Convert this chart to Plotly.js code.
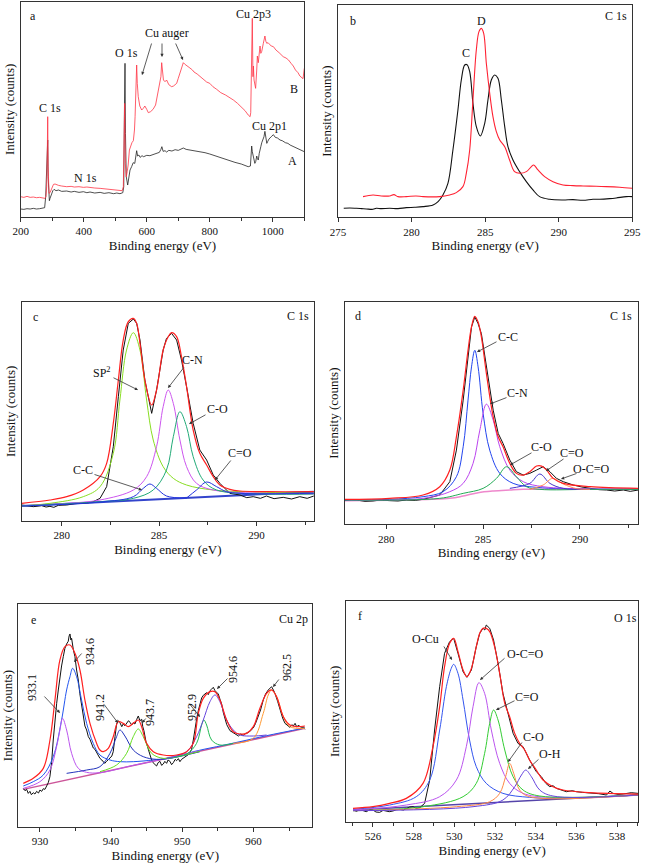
<!DOCTYPE html>
<html><head><meta charset="utf-8">
<script src="https://cdn.plot.ly/plotly-3.0.1.min.js"></script>
<style>html,body{margin:0;padding:0;background:#fff}#chart{width:646px;height:867px}</style>
</head><body><div id="chart"></div>
<script>
// ---------- Panel a: survey spectra ----------
const a_A = [[200,23],[210,22],[220,24],[230,23],[240,25],[250,23],[260,24],[270,25],[276,27],[279.3,60],[282,150],[284.5,200],[285.7,230],[287,120],[289,60],[291,48],[293,55],[297,68],[302,78],[306,82],[312,78],[320,80],[330,76],[346,77],[360,74],[370,76],[385,73],[399,75],[410,72],[420,74],[435,71],[452,73],[465,70],[480,72],[495,69],[505,71],[515,69],[524,72],[527,90],[529,300],[531,460],[532.5,250],[535,120],[539.5,95],[543,118],[547,140],[552,150],[557,162],[562,160],[566,190],[568,198],[571,182],[575,185],[579,178],[585,183],[590,180],[600,184],[610,183],[620,187],[630,189],[640,193],[645,202],[648,210],[652,196],[658,198],[663,194],[670,199],[680,197],[690,201],[700,199],[710,204],[716,206],[725,202],[740,200],[755,197],[769,195],[785,192],[800,188],[815,183],[830,180],[850,172],[865,168],[880,163],[900,158],[915,152],[922,150],[929,152],[931,180],[933,212],[935,195],[938,178],[941,168],[943,160],[946,166],[949,182],[951,175],[954,170],[957,190],[959,202],[962,210],[965,222],[969,232],[972,240],[975,256],[978,232],[981,220],[984,226],[988,233],[995,240],[1002,246],[1008,238],[1015,236],[1023,230],[1030,228],[1040,222],[1048,220],[1055,215],[1062,212],[1070,208],[1078,204],[1086,200],[1093,198],[1100,195]];
const a_B = [[200,60],[210,58],[220,61],[230,58],[240,59],[250,57],[260,58],[270,56],[277,55],[280,60],[282.5,90],[284.5,200],[285.7,300],[287,150],[289.9,70],[293,72],[296,80],[300,92],[304,97],[309,98],[315,95],[320,94],[330,92],[346,90],[360,91],[370,89],[385,90],[399,88],[410,89],[420,87],[435,86],[452,85],[465,84],[480,82],[495,81],[505,80],[515,79],[522,78],[525.7,90],[528,200],[530,340],[532,160],[535,120],[538,135],[541,155],[545,200],[549,215],[553,222],[557.5,228],[561,260],[563,300],[566,400],[568,455],[570,400],[573,360],[578,332],[584,320],[589,325],[594,332],[600,322],[605,312],[612,315],[620,322],[628,335],[636,378],[641,400],[645,420],[647.4,462],[650,430],[653,410],[658,405],[663,410],[670,396],[679,390],[685,392],[690,396],[695,400],[700,415],[705,432],[710,448],[716,462],[720,458],[725,455],[730,450],[737,446],[745,440],[750,434],[760,428],[769,420],[780,412],[790,404],[800,400],[810,390],[822,382],[835,372],[850,365],[862,358],[875,350],[888,340],[900,330],[912,318],[922,305],[928,300],[930,312],[932,450],[935,595],[937,420],[938.5,452],[940.5,410],[943,392],[945.5,385],[949,440],[951,482],[954,462],[957,500],[959.5,512],[962,490],[965,496],[970,520],[975,542],[978,526],[981,520],[985,522],[990,516],[995,512],[1002,510],[1010,500],[1020,492],[1033,480],[1042,476],[1050,470],[1058,460],[1065,452],[1072,440],[1080,432],[1086,422],[1092,418],[1096,414],[1100,445]];

// ---------- Panel b: C 1s comparison ----------
const b_C = [[275.39,27],[275.8,28],[276.25,27],[276.6,26],[276.93,25],[277.38,24],[277.6,27],[277.94,26],[278.51,27],[279.08,26],[279.64,29],[280.21,30],[280.78,32],[281.46,37],[281.8,47],[282.13,67],[282.47,102],[282.81,202],[283.15,322],[283.38,412],[283.61,457],[283.77,458],[283.95,437],[284.17,342],[284.4,272],[284.67,244],[284.97,282],[285.19,352],[285.42,412],[285.65,427],[285.87,417],[286.1,352],[286.33,272],[286.55,212],[286.89,172],[287.34,137],[287.8,107],[288.25,82],[288.7,62],[289.38,54],[290.29,52],[290.97,53],[291.65,51],[292.33,54],[292.78,54],[293.46,56],[293.91,58],[294.59,62],[295,62]];
const b_D = [[276.7,62],[277.38,67],[277.94,64],[278.51,64],[278.8,68],[279.08,62],[279.64,62],[280.3,64],[280.78,62],[281.91,62],[282.59,67],[283.04,74],[283.49,92],[283.72,132],[283.95,202],[284.17,352],[284.4,502],[284.58,557],[284.74,567],[284.9,552],[285.08,462],[285.31,372],[285.53,302],[285.76,257],[285.99,232],[286.33,212],[286.66,172],[287,137],[287.34,132],[287.8,137],[288.14,152],[288.3,157],[288.59,142],[289.04,122],[289.61,107],[290.29,97],[290.97,95],[291.65,94],[292.55,93],[293.23,92],[294.14,90],[295,87]];

// ---------- Panel c: C 1s fit (sample C) ----------
const c_raw = [[277.95,48],[278.3,45],[278.55,43],[278.97,46],[279.2,42],[279.4,44],[279.6,41],[279.83,47],[280.26,48],[280.68,52],[281.11,53],[281.4,55],[281.62,58],[281.97,68],[282.31,103],[282.65,223],[282.91,373],[283.16,513],[283.42,593],[283.68,606],[283.85,593],[284.02,543],[284.27,423],[284.62,323],[284.87,393],[285.21,513],[285.38,548],[285.64,563],[285.9,543],[286.15,483],[286.41,403],[286.75,293],[287.09,213],[287.44,183],[287.78,138],[288.12,113],[288.63,83],[289.15,78],[289.5,70],[289.83,73],[290.2,68],[290.51,75],[290.9,67],[291.37,71],[291.8,66],[292.22,73],[292.6,68],[292.94,75]];
const c_env = [[277.95,53],[279.4,63],[280.26,73],[281.11,93],[281.97,133],[282.31,173],[282.65,293],[282.91,423],[283.16,543],[283.42,598],[283.68,608],[283.85,593],[284.02,533],[284.27,423],[284.62,348],[284.87,393],[285.21,513],[285.47,553],[285.64,565],[285.9,553],[286.15,493],[286.41,403],[286.75,273],[287.09,203],[287.44,168],[287.78,133],[288.12,108],[288.63,95],[289.15,90],[290.51,88],[292.94,88]];
const c_sp2 = [[277.95,45],[279.4,53],[281.11,73],[281.97,103],[282.65,203],[282.99,363],[283.33,513],[283.68,565],[284.02,513],[284.36,363],[284.7,243],[285.21,163],[285.73,128],[286.41,108],[287.78,93],[290.51,86],[292.94,83]];
const c_CN = [[277.95,45],[280.26,53],[281.97,63],[283.68,93],[284.36,133],[284.87,223],[285.21,343],[285.47,393],[285.73,353],[286.07,243],[286.41,163],[286.92,113],[287.78,93],[290.51,83],[292.94,81]];
const c_CO = [[277.95,45],[281.97,58],[283.68,68],[284.7,93],[285.38,153],[285.73,253],[286.07,328],[286.41,283],[286.75,193],[287.26,123],[287.95,93],[290.51,81],[292.94,81]];
const c_CC = [[277.95,45],[281.97,57],[283.68,73],[284.19,98],[284.53,111],[284.87,98],[285.38,75],[286.41,69]];
const c_CdO = [[286.41,69],[286.92,93],[287.44,117],[287.95,103],[288.46,88],[289.15,83],[292.94,83]];
const c_base = [[277.95,45],[292.94,88]];

// ---------- Panel d: C 1s fit (sample D) ----------
const d_raw = [[277.84,71],[278.2,74],[278.45,73],[278.9,69],[279.31,70],[279.7,73],[280.17,71],[280.6,70],[281.03,73],[281.5,72],[281.9,75],[282.76,88],[283.28,128],[283.62,223],[283.97,373],[284.22,503],[284.4,593],[284.57,623],[284.74,603],[284.91,573],[285.17,473],[285.52,343],[285.78,273],[286.03,243],[286.38,193],[286.72,158],[287.07,148],[287.41,153],[287.76,163],[288.1,173],[288.45,158],[288.79,138],[289.14,128],[289.66,118],[290.1,112],[290.52,108],[291,104],[291.38,103],[291.8,100],[292.24,103],[292.6,99],[293.02,103]];
const d_env = [[277.84,75],[280.17,78],[281.9,88],[282.76,113],[283.28,163],[283.62,263],[283.97,403],[284.22,523],[284.4,593],[284.57,625],[284.74,608],[284.91,563],[285.17,453],[285.52,323],[285.78,263],[286.03,233],[286.38,183],[286.72,153],[287.07,148],[287.41,158],[287.76,175],[288.02,175],[288.28,163],[288.62,138],[289.14,123],[290.52,113],[293.02,108]];
const d_CC = [[277.84,73],[280.17,75],[281.9,83],[282.93,98],[283.62,143],[283.97,233],[284.22,373],[284.4,473],[284.57,523],[284.74,473],[285,333],[285.34,223],[285.86,153],[286.55,123],[287.76,111],[290.52,106],[293.02,106]];
const d_CN = [[277.84,73],[281.9,78],[283.28,98],[283.97,123],[284.48,183],[284.83,283],[285.17,361],[285.52,313],[285.86,233],[286.38,163],[287.07,128],[288.1,113],[290.52,106],[293.02,106]];
const d_CO = [[277.84,73],[282.76,78],[283.97,93],[285,108],[285.69,138],[286.21,173],[286.72,143],[287.24,113],[287.93,105],[290.52,105],[293.02,105]];
const d_CdO = [[286.38,108],[287.41,123],[287.93,151],[288.45,123],[289.14,108],[290.52,105]];
const d_OCO = [[287.41,105],[288.1,118],[288.59,138],[289.14,121],[289.83,107],[290.52,105]];
const d_base = [[277.84,71],[283.28,78],[283.97,85],[284.74,95],[285.52,100],[286.38,103],[287.07,105],[293.02,105]];

// ---------- Panel e: Cu 2p fit ----------
const e_raw = [[927.66,115],[927.9,108],[928.13,112],[928.36,100],[928.59,106],[928.8,96],[929.06,102],[929.3,98],[929.53,106],[929.8,101],[930,110],[930.25,106],[930.47,114],[930.7,112],[930.94,122],[931.17,132],[931.4,150],[931.64,192],[931.87,260],[932.11,320],[932.35,370],[932.58,410],[932.8,450],[933.04,482],[933.28,510],[933.51,535],[933.75,548],[933.98,556],[934.1,572],[934.22,578],[934.35,560],[934.45,565],[934.7,530],[934.92,510],[935.15,470],[935.39,440],[935.6,400],[935.85,362],[936.1,330],[936.32,302],[936.56,290],[936.8,270],[937.03,262],[937.3,250],[937.5,236],[937.73,232],[938,220],[938.2,214],[938.43,205],[938.7,200],[938.9,196],[939.1,190],[939.37,196],[939.6,200],[939.84,206],[940.1,212],[940.3,225],[940.55,270],[940.77,308],[941,318],[941.24,312],[941.5,300],[941.7,308],[941.94,303],[942.2,310],[942.45,318],[942.65,313],[942.9,305],[943.1,312],[943.35,308],[943.6,322],[943.82,332],[944.05,318],[944.29,322],[944.45,300],[944.61,288],[944.9,255],[945.22,230],[945.45,212],[945.69,200],[945.9,192],[946.15,186],[946.39,182],[946.6,192],[946.86,196],[947.1,184],[947.33,188],[947.55,196],[947.8,190],[948,200],[948.27,196],[948.5,186],[948.74,192],[949,202],[949.2,198],[949.45,204],[949.67,195],[949.9,202],[950.14,206],[950.4,208],[950.6,214],[950.84,216],[951.1,224],[951.31,232],[951.55,260],[951.8,300],[952.01,322],[952.25,348],[952.5,372],[952.72,386],[952.95,394],[953.2,398],[953.42,402],[953.65,396],[953.89,408],[954.1,412],[954.36,418],[954.6,408],[954.82,404],[955.06,398],[955.3,382],[955.53,368],[955.77,342],[956,322],[956.25,306],[956.5,296],[956.7,288],[957,284],[957.3,280],[957.64,276],[957.9,272],[958.2,278],[958.57,274],[958.9,280],[959.27,282],[959.6,288],[959.98,296],[960.3,310],[960.68,330],[961,350],[961.38,380],[961.7,398],[962.08,410],[962.3,414],[962.55,420],[962.8,410],[963.02,400],[963.4,376],[963.72,350],[964.1,326],[964.43,310],[964.8,302],[965.13,298],[965.4,306],[965.6,302],[965.85,310],[966.07,300],[966.4,304],[966.77,296],[967,300],[967.24,292]];
const e_env = [[927.66,130],[929.06,145],[930.47,175],[931.41,260],[932.11,380],[932.81,500],[933.51,540],[934.22,545],[934.92,520],[935.62,470],[936.32,380],[937.03,310],[937.96,250],[938.43,230],[938.9,225],[939.6,235],[940.3,270],[941.01,315],[941.71,310],[942.41,300],[943.11,310],[943.82,320],[944.29,300],[944.99,250],[945.93,225],[947.33,215],[949.2,215],[950.61,225],[951.55,250],[952.25,340],[952.95,385],[953.89,405],[954.59,405],[955.29,380],[956.23,320],[957.17,285],[958.1,278],[959.04,280],[959.98,300],[960.91,355],[961.85,400],[962.55,410],[963.26,390],[964.2,330],[965.13,305],[966.07,300],[967.24,302]];
const e_p9346 = [[927.66,122],[929.06,135],[930.47,155],[931.87,210],[933.04,320],[933.75,410],[934.22,450],[934.59,475],[935.15,450],[935.85,380],[936.56,310],[937.49,250],[938.43,215],[939.84,200],[941.24,195],[943.11,195],[945.93,200],[948.74,207],[951.55,225],[954.82,240],[958.1,255],[961.85,273],[967.24,296]];
const e_p9331 = [[927.66,115],[930,135],[931.41,170],[932.34,240],[932.81,290],[933.18,325],[933.75,290],[934.45,220],[935.39,175],[936.56,163],[938.43,162],[943.11,184],[947.8,205],[952.48,228]];
const e_p9412 = [[933.75,160],[936.56,170],[938.43,180],[939.84,220],[940.77,270],[941.24,290],[941.94,272],[943.11,230],[944.52,210],[946.39,202],[948.74,207],[952.48,225]];
const e_p9437 = [[938.43,165],[940.77,185],[942.18,220],[943.11,270],[943.82,293],[944.52,270],[945.69,220],[947.33,205],[949.67,212],[952.48,226]];
const e_p9529 = [[947.8,205],[950.61,218],[952.01,250],[952.72,305],[953.04,320],[953.42,305],[954.12,260],[955.29,245],[957.17,250]];
const e_p9546 = [[947.8,205],[950.61,225],[952.01,270],[952.95,320],[953.89,375],[954.59,395],[955.29,375],[956.23,320],[957.17,290],[958.1,275],[959.98,272],[961.85,275]];
const e_p9625 = [[957.17,250],[959.98,265],[961.38,340],[962.08,395],[962.55,410],[963.26,390],[964.2,330],[965.13,300],[967.24,295]];
const e_base = [[927.66,112],[967.24,295]];

// ---------- Panel f: O 1s fit ----------
const f_raw = [[525.02,35],[525.2,31],[525.34,37],[525.5,33],[525.67,30],[525.85,36],[526,35],[526.15,29],[526.33,28],[526.5,34],[526.66,33],[526.8,30],[526.98,32],[527.15,36],[527.31,37],[527.5,35],[527.64,39],[527.8,44],[527.97,45],[528.13,40],[528.3,42],[528.54,55],[528.79,125],[529.03,275],[529.28,405],[529.52,505],[529.77,540],[529.97,550],[530.18,505],[530.43,450],[530.62,433],[530.84,455],[531.08,525],[531.25,565],[531.41,580],[531.5,575],[531.57,590],[531.74,580],[531.93,545],[532.15,475],[532.39,385],[532.64,325],[532.89,265],[533.13,235],[533.38,225],[533.7,185],[534.03,150],[534.28,135],[534.5,115],[534.69,105],[534.85,108],[535.02,100],[535.3,95],[535.51,90],[535.8,93],[536,90],[536.3,88],[536.66,87],[537.1,84],[537.48,80],[537.65,92],[537.8,85],[538.05,82],[538.3,83],[538.7,87],[539.03,85]];
const f_env = [[525.02,40],[526,45],[526.82,55],[527.64,70],[528.46,115],[528.95,225],[529.28,345],[529.52,465],[529.77,535],[529.97,550],[530.18,510],[530.43,455],[530.62,435],[530.84,460],[531.08,525],[531.25,565],[531.41,580],[531.57,580],[531.74,570],[531.98,525],[532.23,445],[532.48,355],[532.72,315],[532.97,265],[533.21,235],[533.46,215],[533.7,185],[534.03,155],[534.36,125],[534.85,105],[535.34,95],[536.66,87],[539.03,83]];
const f_OCu = [[525.02,37],[526.82,50],[528.13,75],[528.79,125],[529.28,275],[529.61,405],[529.85,460],[529.97,472],[530.18,445],[530.43,365],[530.75,245],[531.08,165],[531.57,115],[532.39,85],[533.7,73],[535.02,70],[539.03,80]];
const f_OCO = [[525.02,35],[527.64,50],[529.28,75],[530.1,125],[530.59,225],[530.92,345],[531.21,417],[531.49,385],[531.82,275],[532.23,175],[532.72,115],[533.38,85],[534.69,73],[539.03,80]];
const f_CdO = [[525.02,33],[528.46,45],[530.43,75],[531.08,115],[531.49,205],[531.74,295],[531.93,335],[532.15,305],[532.48,215],[532.89,135],[533.38,95],[534.2,77],[539.03,80]];
const f_CO = [[525.02,33],[530.1,45],[531.74,60],[532.23,85],[532.52,135],[532.72,175],[532.92,145],[533.21,95],[533.7,75],[539.03,80]];
const f_OH = [[525.02,33],[530.92,45],[532.39,65],[532.97,105],[533.3,140],[533.51,155],[533.79,135],[534.2,95],[534.85,77],[539.03,80]];
const f_base = [[525.02,35],[539.03,80]];

// ---------- build ----------
const W = 646, H = 867;
const FONT = "'Liberation Serif', 'Times New Roman', serif";
function tr(pts, ax, color, width, shape) {
  return {x: pts.map(p => p[0]), y: pts.map(p => p[1]), xaxis: 'x' + ax, yaxis: 'y' + ax,
    type: 'scatter', mode: 'lines', hoverinfo: 'skip',
    line: {color: color, width: width, shape: shape || 'linear', smoothing: 1}};
}
const data = [
  tr(a_A, '', '#222222', 0.8), tr(a_B, '', '#ff3344', 0.8),
  tr(b_C, '2', '#111111', 1.1, 'spline'), tr(b_D, '2', '#ff2233', 1.1, 'spline'),
  tr(c_base, '3', '#3344cc', 2), tr(c_raw, '3', '#111111', 1),
  tr(c_sp2, '3', '#88dd22', 1, 'spline'), tr(c_CN, '3', '#cc55ee', 1, 'spline'),
  tr(c_CO, '3', '#22aa77', 1, 'spline'), tr(c_CC, '3', '#2233dd', 1, 'spline'),
  tr(c_CdO, '3', '#2233dd', 1, 'spline'), tr(c_env, '3', '#ff2020', 1.2, 'spline'),
  tr(d_base, '4', '#ee88cc', 1.5, 'spline'), tr(d_raw, '4', '#111111', 1),
  tr(d_CC, '4', '#2244ee', 1, 'spline'), tr(d_CN, '4', '#bb44ee', 1, 'spline'),
  tr(d_CO, '4', '#22aa55', 1, 'spline'), tr(d_CdO, '4', '#4433cc', 1, 'spline'),
  tr(d_OCO, '4', '#ff8855', 1, 'spline'), tr(d_env, '4', '#ff2020', 1.2, 'spline'),
  tr(e_base, '5', '#cc5599', 1.5), tr(e_raw, '5', '#111111', 1),
  tr(e_p9346, '5', '#2255ee', 1, 'spline'), tr(e_p9331, '5', '#bb55ee', 1, 'spline'),
  tr(e_p9412, '5', '#2233bb', 1, 'spline'), tr(e_p9437, '5', '#66dd22', 1, 'spline'),
  tr(e_p9529, '5', '#22bb55', 1, 'spline'), tr(e_p9546, '5', '#6644dd', 1, 'spline'),
  tr(e_p9625, '5', '#ff9933', 1, 'spline'), tr(e_env, '5', '#ff2020', 1.2, 'spline'),
  tr(f_base, '6', '#5544aa', 1.5), tr(f_raw, '6', '#111111', 1),
  tr(f_OCu, '6', '#3355ee', 1, 'spline'), tr(f_OCO, '6', '#bb55ee', 1, 'spline'),
  tr(f_CdO, '6', '#33cc33', 1, 'spline'), tr(f_CO, '6', '#ff8844', 1, 'spline'),
  tr(f_OH, '6', '#6644dd', 1, 'spline'), tr(f_env, '6', '#ff2020', 1.2, 'spline')
];

function xax(l, r, ya, range, dtick, tick0, minor) {
  const o = {domain: [l / W, r / W], anchor: ya, range: range, dtick: dtick, tick0: tick0,
    showline: true, mirror: true, linecolor: '#333', linewidth: 1, showgrid: false, zeroline: false,
    ticks: 'outside', ticklen: 4, tickcolor: '#333', tickfont: {family: FONT, size: 11, color: '#111'},
    title: {text: 'Binding energy (eV)', font: {family: FONT, size: 13, color: '#111'}, standoff: 4}};
  if (minor) o.minor = {dtick: minor, tick0: tick0, ticks: 'outside', ticklen: 3, tickcolor: '#333', showgrid: false};
  return o;
}
function yax(t, b, xa, range) {
  return {domain: [1 - b / H, 1 - t / H], anchor: xa, range: range, showticklabels: false, ticks: '',
    showline: true, mirror: true, linecolor: '#333', linewidth: 1, showgrid: false, zeroline: false,
    title: {text: 'Intensity (counts)', font: {family: FONT, size: 13, color: '#111'}, standoff: 2}};
}

function lab(text, px, py, rot) {
  return {text: text, x: px / W, y: 1 - py / H, xref: 'paper', yref: 'paper', showarrow: false,
    xanchor: 'center', yanchor: 'middle', textangle: rot || 0, font: {family: FONT, size: 12, color: '#111'}};
}
function arr(tx, ty, hx, hy) {
  return {text: '', x: hx / W, y: 1 - hy / H, xref: 'paper', yref: 'paper', showarrow: true,
    ax: tx - hx, ay: ty - hy, axref: 'pixel', ayref: 'pixel', arrowhead: 2, arrowsize: 0.8,
    arrowwidth: 0.8, arrowcolor: '#333'};
}
const annotations = [
  lab('a', 33, 16), lab('C 1s', 50, 108), lab('N 1s', 85, 178), lab('O 1s', 126, 53),
  lab('Cu auger', 167, 33), arr(152, 42, 142, 75), arr(162, 42, 162, 57), arr(175, 42, 183, 60),
  lab('Cu 2p3', 253, 14), lab('Cu 2p1', 269, 126), lab('B', 294, 89), lab('A', 292, 161),
  lab('b', 353, 21), lab('C 1s', 616, 16), lab('D', 482, 21), lab('C', 466, 53),
  lab('c', 35, 317), lab('C 1s', 298, 316),
  lab('SP<sup>2</sup>', 102, 372), arr(112, 377, 138, 390),
  lab('C-N', 192, 360), arr(185, 366, 168, 388),
  lab('C-O', 217, 409), arr(207, 414, 189, 424),
  lab('C=O', 240, 453), arr(232, 459, 215, 480),
  lab('C-C', 83, 470), arr(93, 474, 142, 490),
  lab('d', 358, 316), lab('C 1s', 621, 316),
  lab('C-C', 508, 337), arr(498, 341, 477, 352),
  lab('C-N', 517, 393), arr(508, 397, 490, 404),
  lab('C-O', 541, 447), arr(533, 452, 510, 465),
  lab('C=O', 572, 453), arr(565, 458, 546, 471),
  lab('O-C=O', 591, 469), arr(578, 473, 561, 479),
  lab('e', 33, 620), lab('Cu 2p', 293, 619),
  lab('933.1', 32, 688, -90), arr(43, 695, 60, 713),
  lab('934.6', 90, 652, -90), arr(83, 652, 74, 662),
  lab('941.2', 100, 708, -90), arr(103, 703, 118, 723),
  lab('943.7', 150, 713, -90), arr(147, 717, 142, 723),
  lab('952.9', 192, 708, -90), arr(188, 702, 200, 717),
  lab('954.6', 233, 670, -90), arr(229, 677, 217, 689),
  lab('962.5', 287, 668, -90), arr(280, 678, 273, 687),
  lab('f', 360, 616), lab('O 1s', 625, 618),
  lab('O-Cu', 426, 639), arr(443, 645, 452, 660),
  lab('O-C=O', 525, 654), arr(506, 657, 480, 680),
  lab('C=O', 527, 697), arr(516, 700, 496, 710),
  lab('C-O', 533, 737), arr(523, 741, 508, 762),
  lab('O-H', 550, 754), arr(540, 758, 528, 769)
];

const layout = {
  width: W, height: H, margin: {l: 0, r: 0, t: 0, b: 0}, showlegend: false,
  paper_bgcolor: '#fff', plot_bgcolor: '#fff', font: {family: FONT, color: '#111'},
  xaxis: xax(20.7, 304.3, 'y', [200, 1100], 200, 200, 100),
  yaxis: yax(2, 216.7, 'x', [0, 644]),
  xaxis2: xax(338, 632.3, 'y2', [275, 295], 5, 275, null),
  yaxis2: yax(5, 217.3, 'x2', [0, 637]),
  xaxis3: xax(21.7, 314, 'y3', [277.95, 292.95], 5, 280, 2.5),
  yaxis3: yax(301.7, 521, 'x3', [0, 658]),
  xaxis4: xax(344.7, 638, 'y4', [277.85, 293.0], 5, 280, 2.5),
  yaxis4: yax(302, 524.3, 'x4', [0, 668]),
  xaxis5: xax(18.3, 312.3, 'y5', [926.96, 968.27], 10, 930, 5),
  yaxis5: yax(604.3, 826.7, 'x5', [0, 667]),
  xaxis6: xax(346.3, 638, 'y6', [524.69, 539.03], 2, 526, 1),
  yaxis6: yax(601, 821.7, 'x6', [0, 662]),
  annotations: annotations
};
Plotly.newPlot('chart', data, layout, {staticPlot: true, displayModeBar: false});
</script></body></html>
